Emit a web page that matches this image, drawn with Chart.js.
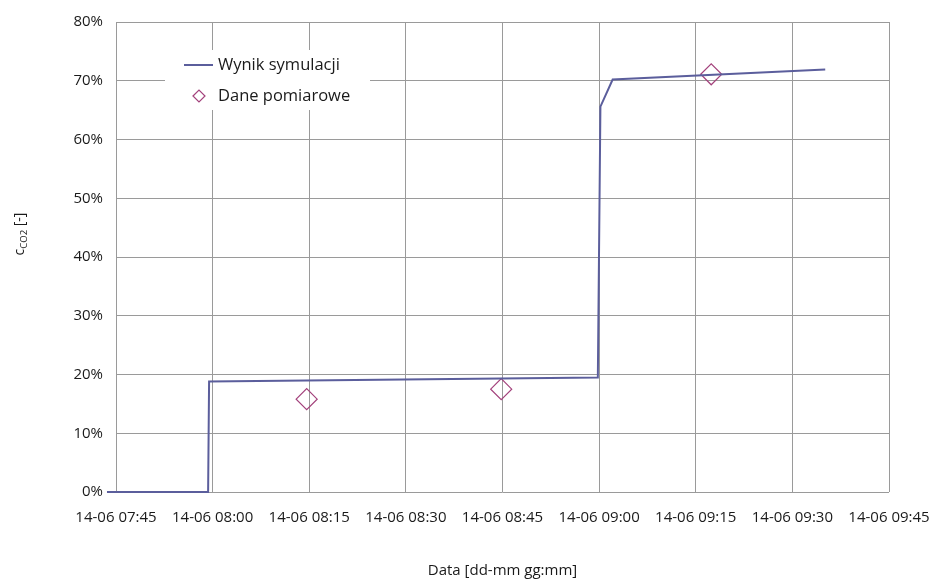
<!DOCTYPE html>
<html>
<head>
<meta charset="utf-8">
<script src="https://cdn.jsdelivr.net/npm/chart.js@4.4.1/dist/chart.umd.min.js"></script>
<style>
    html, body { margin: 0; padding: 0; background: #fff; }
    #wrap { width: 933px; height: 580px; }
</style>
</head>
<body>
<div id="wrap"><canvas id="myChart" width="933" height="580"></canvas></div>
<script>
// dane (czas hh:mm:ss, stezenie w %)
const simTimes = ['07:43:36', '07:59:18', '07:59:27', '08:59:48', '09:00:12', '09:02:06', '09:35:06'];
const simValues = [0, 0, 18.8, 19.5, 65.6, 70.2, 71.9];

const measTimes = ['08:14:36', '08:44:48', '09:17:24'];
const measValues = [15.8, 17.5, 71.1];

const xTickTimes = ['07:45', '08:00', '08:15', '08:30', '08:45', '09:00', '09:15', '09:30', '09:45'];
const yTicks = [0, 10, 20, 30, 40, 50, 60, 70, 80];

const day = '14-06';
const seriesNames = ['Wynik symulacji', 'Dane pomiarowe'];
const xTitle = 'Data [dd-mm gg:mm]';

const FONT = '"Open Sans", "Noto Sans", sans-serif';
const lineColor = '#5b5e9c';
const markColor = '#a3427c';
const gridColor = '#9a9a9a';

// minuty od 07:45
function toMin(t) {
    const p = t.split(':').map(Number);
    return (p[0] * 60 + p[1] + (p[2] || 0) / 60) - (7 * 60 + 45);
}

function minToLabel(m) {
    const total = 7 * 60 + 45 + Math.round(m);
    const h = String(Math.floor(total / 60)).padStart(2, '0');
    const mm = String(total % 60).padStart(2, '0');
    return day + ' ' + h + ':' + mm;
}

const simData = simTimes.map((t, i) => ({ x: toMin(t), y: simValues[i] }));
const measData = measTimes.map((t, i) => ({ x: toMin(t), y: measValues[i] }));

// legenda w obszarze wykresu + opis osi Y z indeksem dolnym
const extras = {
    id: 'extras',
    afterDraw(chart) {
        const ctx = chart.ctx;
        ctx.save();

        // legenda
        ctx.fillStyle = '#fff';
        ctx.fillRect(165, 50, 205, 60);
        ctx.strokeStyle = lineColor;
        ctx.lineWidth = 2;
        ctx.beginPath();
        ctx.moveTo(184, 65);
        ctx.lineTo(213, 65);
        ctx.stroke();

        ctx.strokeStyle = markColor;
        ctx.lineWidth = 1.2;
        ctx.beginPath();
        ctx.moveTo(193, 96);
        ctx.lineTo(199, 90);
        ctx.lineTo(205, 96);
        ctx.lineTo(199, 102);
        ctx.closePath();
        ctx.stroke();

        ctx.fillStyle = '#1a1a1a';
        ctx.font = '16.5px ' + FONT;
        ctx.textBaseline = 'middle';
        ctx.textAlign = 'left';
        ctx.fillText(seriesNames[0], 218, 65);
        ctx.fillText(seriesNames[1], 218, 96);

        // opis osi Y: c_CO2 [-]
        ctx.translate(24, 234);
        ctx.rotate(-Math.PI / 2);
        ctx.textBaseline = 'alphabetic';
        const big = '14px ' + FONT;
        const small = '9.5px ' + FONT;
        ctx.font = big;
        const w1 = ctx.measureText('c').width;
        ctx.font = small;
        const w2 = ctx.measureText('CO2').width;
        ctx.font = big;
        const w3 = ctx.measureText(' [-]').width;
        let x = -(w1 + w2 + w3) / 2;
        ctx.fillText('c', x, 0);
        x += w1;
        ctx.font = small;
        ctx.fillText('CO2', x, 3);
        x += w2;
        ctx.font = big;
        ctx.fillText(' [-]', x, 0);

        ctx.restore();
    }
};

const config = {
    type: 'scatter',
    data: {
        datasets: [
            {
                label: seriesNames[0],
                data: simData,
                showLine: true,
                borderColor: lineColor,
                borderWidth: 2,
                pointRadius: 0,
                fill: false,
                clip: false
            },
            {
                label: seriesNames[1],
                data: measData,
                showLine: false,
                pointStyle: 'rectRot',
                pointRadius: 10.5,
                pointBorderWidth: 1.2,
                pointBorderColor: markColor,
                pointBackgroundColor: 'rgba(255,255,255,0)'
            }
        ]
    },
    plugins: [extras],
    options: {
        responsive: false,
        animation: false,
        layout: { padding: { left: 0, right: 44, top: 22, bottom: 0 } },
        plugins: {
            legend: { display: false },
            tooltip: { enabled: false }
        },
        scales: {
            x: {
                type: 'linear',
                min: toMin(xTickTimes[0]),
                max: toMin(xTickTimes[xTickTimes.length - 1]),
                afterBuildTicks: (scale) => {
                    scale.ticks = xTickTimes.map(t => ({ value: toMin(t) }));
                },
                afterFit: (scale) => {
                    scale.height = 88;
                    scale.paddingLeft = 0;
                    scale.paddingRight = 0;
                },
                grid: { color: gridColor, lineWidth: 1, drawTicks: false },
                border: { display: false },
                ticks: {
                    padding: 17,
                    maxRotation: 0,
                    autoSkip: false,
                    color: '#1a1a1a',
                    font: { family: FONT, size: 15 },
                    callback: (v) => minToLabel(v)
                },
                title: {
                    display: true,
                    text: xTitle,
                    color: '#1a1a1a',
                    font: { family: FONT, size: 15 },
                    padding: { top: 0, bottom: 0 }
                }
            },
            y: {
                min: yTicks[0],
                max: yTicks[yTicks.length - 1],
                afterBuildTicks: (scale) => {
                    scale.ticks = yTicks.map(v => ({ value: v }));
                },
                afterFit: (scale) => {
                    scale.width = 116;
                    scale.paddingTop = 0;
                    scale.paddingBottom = 0;
                },
                grid: { color: gridColor, lineWidth: 1, drawTicks: false },
                border: { display: false },
                ticks: {
                    padding: 13,
                    color: '#1a1a1a',
                    font: { family: FONT, size: 15 },
                    callback: (v) => v + '%'
                }
            }
        }
    }
};

const myChart = new Chart(document.getElementById('myChart'), config);
</script>
</body>
</html>
